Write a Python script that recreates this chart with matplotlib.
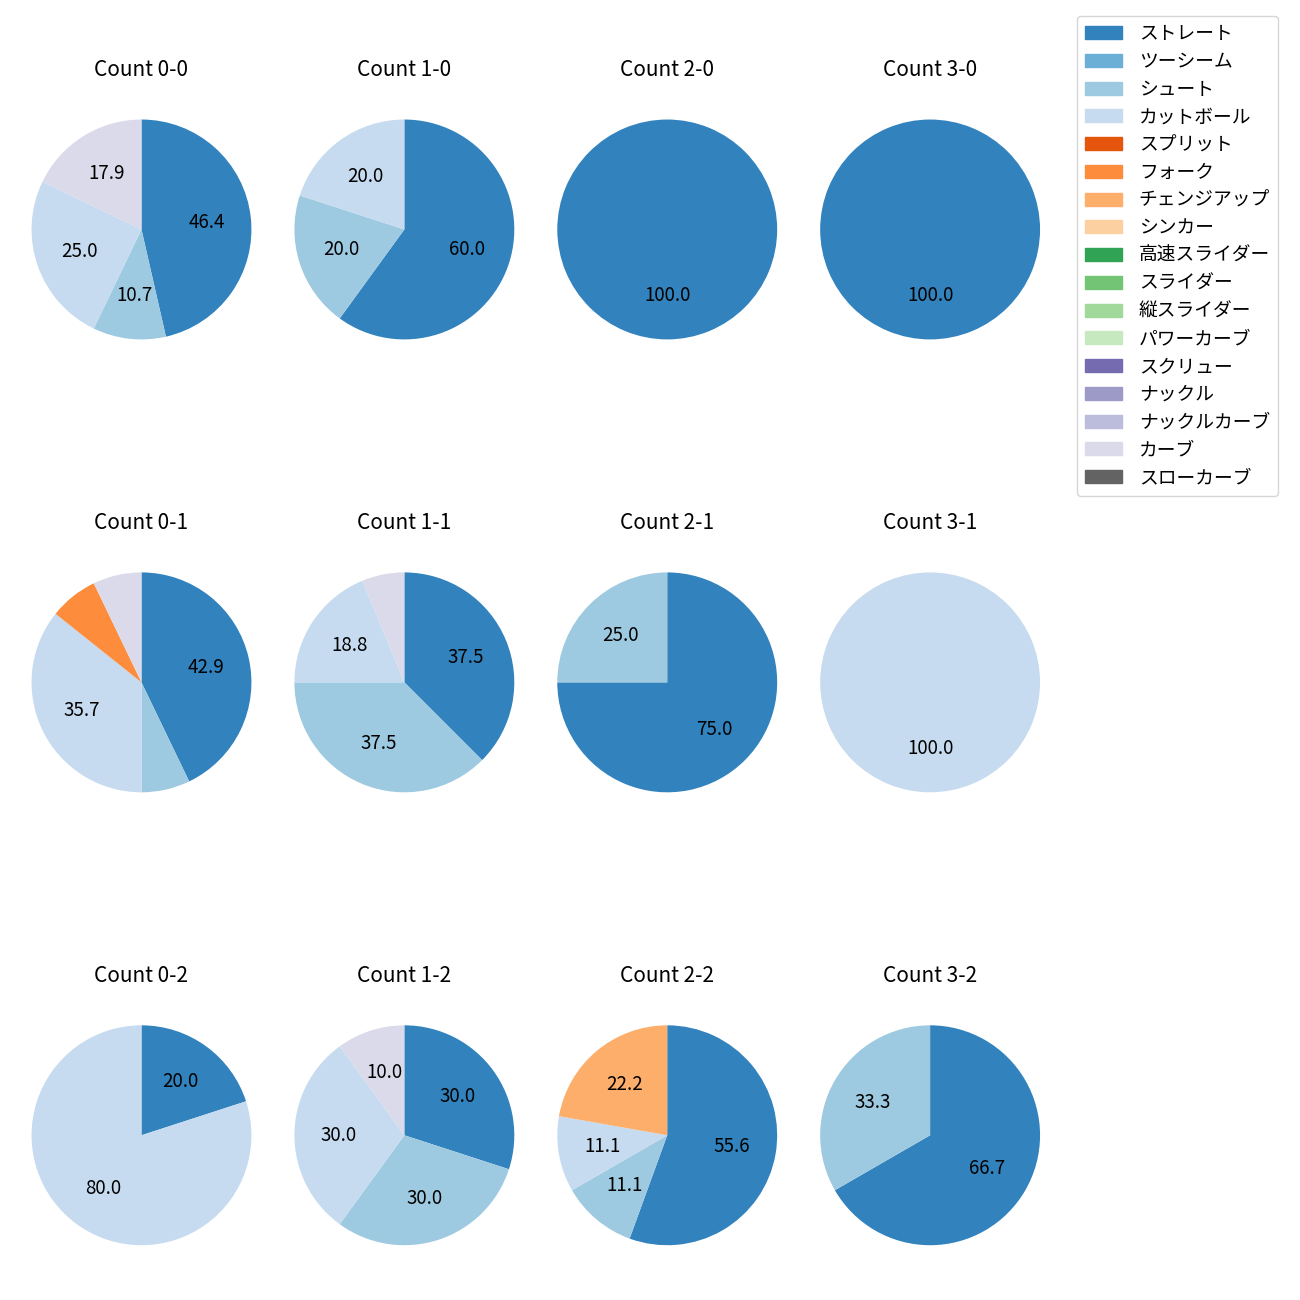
import matplotlib
matplotlib.use("Agg")
import matplotlib.pyplot as plt
from matplotlib.patches import Patch

plt.rcParams['font.family'] = ['Noto Sans CJK JP', 'DejaVu Sans']

# 球種 (凡例の順)
pitch_types = ['ストレート', 'ツーシーム', 'シュート', 'カットボール', 'スプリット',
               'フォーク', 'チェンジアップ', 'シンカー', '高速スライダー', 'スライダー',
               '縦スライダー', 'パワーカーブ', 'スクリュー', 'ナックル', 'ナックルカーブ',
               'カーブ', 'スローカーブ']

# カウント別の投球数 (球種の順)
#          St Tw Sh Ct Sp Fk Ch Sk HS Sl VS PC Sc Kn KC Cv SC
c_0_0 = [13, 0, 3, 7, 0, 0, 0, 0, 0, 0, 0, 0, 0, 0, 0, 5, 0]
c_1_0 = [3, 0, 1, 1, 0, 0, 0, 0, 0, 0, 0, 0, 0, 0, 0, 0, 0]
c_2_0 = [2, 0, 0, 0, 0, 0, 0, 0, 0, 0, 0, 0, 0, 0, 0, 0, 0]
c_3_0 = [1, 0, 0, 0, 0, 0, 0, 0, 0, 0, 0, 0, 0, 0, 0, 0, 0]
c_0_1 = [6, 0, 1, 5, 0, 1, 0, 0, 0, 0, 0, 0, 0, 0, 0, 1, 0]
c_1_1 = [6, 0, 6, 3, 0, 0, 0, 0, 0, 0, 0, 0, 0, 0, 0, 1, 0]
c_2_1 = [3, 0, 1, 0, 0, 0, 0, 0, 0, 0, 0, 0, 0, 0, 0, 0, 0]
c_3_1 = [0, 0, 0, 1, 0, 0, 0, 0, 0, 0, 0, 0, 0, 0, 0, 0, 0]
c_0_2 = [1, 0, 0, 4, 0, 0, 0, 0, 0, 0, 0, 0, 0, 0, 0, 0, 0]
c_1_2 = [3, 0, 3, 3, 0, 0, 0, 0, 0, 0, 0, 0, 0, 0, 0, 1, 0]
c_2_2 = [5, 0, 1, 1, 0, 0, 2, 0, 0, 0, 0, 0, 0, 0, 0, 0, 0]
c_3_2 = [2, 0, 1, 0, 0, 0, 0, 0, 0, 0, 0, 0, 0, 0, 0, 0, 0]

grid = [[('0-0', c_0_0), ('1-0', c_1_0), ('2-0', c_2_0), ('3-0', c_3_0)],
        [('0-1', c_0_1), ('1-1', c_1_1), ('2-1', c_2_1), ('3-1', c_3_1)],
        [('0-2', c_0_2), ('1-2', c_1_2), ('2-2', c_2_2), ('3-2', c_3_2)]]

cmap = plt.get_cmap('tab20c')
colors = [cmap(i) for i in range(len(pitch_types))]

fig, axes = plt.subplots(3, 4, figsize=(13, 13), dpi=100)
fig.subplots_adjust(left=0.0158, right=0.8085, top=0.935, bottom=0.0152,
                    wspace=0.0868, hspace=0.562)

for r, row in enumerate(grid):
    for c, (name, vals) in enumerate(row):
        ax = axes[r][c]
        v = [x for x in vals if x > 0]
        col = [colors[i] for i, x in enumerate(vals) if x > 0]
        ax.pie(v, colors=col, startangle=90, counterclock=False,
               autopct=lambda p: f'{p:.1f}' if p >= 10 else '',
               textprops={'fontsize': 13.5})
        ax.axis('equal')
        ax.set_title(f'Count {name}', fontsize=15)

handles = [Patch(color=colors[i], label=p) for i, p in enumerate(pitch_types)]
fig.legend(handles=handles, loc='upper left',
           bbox_to_anchor=(1077 / 1300, 1 - 15.7 / 1300), borderaxespad=0,
           fontsize=13.5, labelspacing=0.36, handletextpad=0.9)

fig.savefig('out.png')
